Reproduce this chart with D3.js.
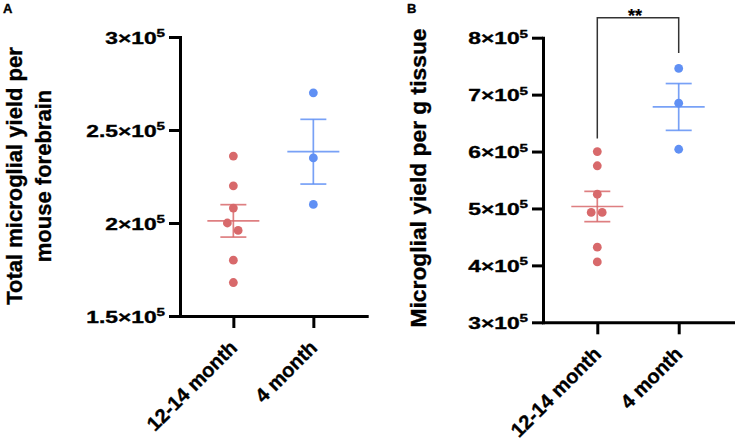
<!DOCTYPE html>
<html>
<head>
<meta charset="utf-8">
<script src="https://cdn.jsdelivr.net/npm/d3@7"></script>
<style>
  html, body { margin: 0; padding: 0; background: #fff; }
  svg { display: block; }
  text { font-family: "Liberation Sans", Arial, Helvetica, sans-serif; font-weight: bold; fill: #000; stroke: #000; stroke-width: 0.35px; }
</style>
</head>
<body>
<svg id="chart" width="736" height="441"></svg>
<script>
// ---------- data ----------
const categories = ["12-14 month", "4 month"];

// Panel A: total microglial yield per mouse forebrain
const a_old = [2.36e5, 2.20e5, 2.08e5, 2.00e5, 1.96e5, 1.80e5, 1.68e5];
const a_young = [2.70e5, 2.35e5, 2.10e5];
const a_oldJitter = [0, 0, 0, -0.075, 0.06, 0, 0];   // fraction of category step
const a_youngJitter = [0, 0, 0];
const a_ticks = [1.5e5, 2e5, 2.5e5, 3e5];
const a_tickLabels = ["1.5×10", "2×10", "2.5×10", "3×10"];
const a_title = ["Total microglial yield per", "mouse forebrain"];

// Panel B: microglial yield per g tissue
const b_old = [6.00e5, 5.75e5, 5.25e5, 4.93e5, 4.93e5, 4.32e5, 4.06e5];
const b_young = [7.46e5, 6.85e5, 6.04e5];
const b_oldJitter = [0, 0, 0, -0.075, 0.06, 0, 0];
const b_youngJitter = [0, 0, 0];
const b_ticks = [3e5, 4e5, 5e5, 6e5, 7e5, 8e5];
const b_tickLabels = ["3×10", "4×10", "5×10", "6×10", "7×10", "8×10"];
const b_title = ["Microglial yield per g tissue"];
const tickExponent = "5";

// significance bracket (panel B)
const sigLabel = "**";
const sigTop = 8.35e5;
const sigLegEnds = [6.23e5, 7.73e5];

const colors = ["#d8696b", "#6090f4"];

// ---------- helpers ----------
const svg = d3.select("#chart");

function mean(a) { return d3.mean(a); }
function sem(a) { return d3.deviation(a) / Math.sqrt(a.length); }

function panel(opt) {
  const g = svg.append("g");
  const x = d3.scalePoint().domain(categories).range([opt.x0, opt.x1]).padding(0.667);
  const y = d3.scaleLinear().domain(opt.domain).range([opt.y0, opt.y1]);
  const step = x.step();

  // y axis
  const yAx = g.append("g").attr("transform", `translate(${opt.x0},0)`)
    .call(d3.axisLeft(y).tickValues(opt.ticks).tickSize(11).tickSizeOuter(0).tickFormat(""));
  // x axis
  const xAx = g.append("g").attr("transform", `translate(0,${opt.y0})`)
    .call(d3.axisBottom(x).tickSize(12).tickSizeOuter(0).tickFormat(""));
  [yAx, xAx].forEach(ax => {
    ax.selectAll("path.domain").attr("stroke", "#000").attr("stroke-width", 3).attr("stroke-linecap", "square");
    ax.selectAll(".tick line").attr("stroke", "#000").attr("stroke-width", 3);
  });

  // y tick labels with superscript
  const lbl = g.append("g").selectAll("text").data(opt.ticks).join("text")
    .attr("text-anchor", "end")
    .attr("transform", d => `translate(${opt.x0 - 15},${y(d) + 6.5}) scale(1.38,1)`)
    .style("font-size", "16.5px");
  lbl.append("tspan").text((d, i) => opt.tickLabels[i]);
  lbl.append("tspan").attr("dy", -6.5).style("font-size", "11px").text(tickExponent);

  // x tick labels rotated
  g.append("g").selectAll("text").data(categories).join("text")
    .attr("text-anchor", "end")
    .attr("transform", d => `translate(${x(d) + 5},${opt.y0 + 33}) rotate(-45)`)
    .style("font-size", "20px")
    .text(d => d);

  // y title
  const t = g.append("text")
    .attr("text-anchor", "middle")
    .attr("transform", `translate(${opt.titleX},${opt.titleY}) rotate(-90)`)
    .style("font-size", opt.titleSize + "px");
  opt.title.forEach((line, i) => {
    t.append("tspan").attr("x", 0).attr("y", i * opt.titleGap).text(line);
  });

  // panel letter
  g.append("text").attr("x", opt.letterX).attr("y", 12.5).style("font-size", "13px").text(opt.letter);

  // groups
  opt.groups.forEach((grp, gi) => {
    const cx = x(categories[gi]);
    const col = colors[gi];
    const m = mean(grp.values), s = sem(grp.values);
    const bars = g.append("g").attr("stroke", col).attr("stroke-width", 1.7).attr("stroke-opacity", 0.85);
    bars.append("line").attr("x1", cx - 26).attr("x2", cx + 26).attr("y1", y(m)).attr("y2", y(m));
    bars.append("line").attr("x1", cx).attr("x2", cx).attr("y1", y(m + s)).attr("y2", y(m - s));
    bars.append("line").attr("x1", cx - 13).attr("x2", cx + 13).attr("y1", y(m + s)).attr("y2", y(m + s));
    bars.append("line").attr("x1", cx - 13).attr("x2", cx + 13).attr("y1", y(m - s)).attr("y2", y(m - s));
    g.append("g").selectAll("circle").data(grp.values).join("circle")
      .attr("cx", (d, i) => cx + grp.jitter[i] * step)
      .attr("cy", d => y(d))
      .attr("r", 4.4)
      .attr("fill", col);
  });

  return { x, y, g };
}

// ---------- panel A ----------
panel({
  x0: 180, x1: 366.7, y0: 316, y1: 37, domain: [1.5e5, 3e5],
  ticks: a_ticks, tickLabels: a_tickLabels,
  title: a_title, titleX: 21.5, titleY: 176, titleGap: 29, titleSize: 22,
  letter: "A", letterX: 3,
  groups: [{ values: a_old, jitter: a_oldJitter }, { values: a_young, jitter: a_youngJitter }]
});

// ---------- panel B ----------
const pB = panel({
  x0: 543, x1: 733, y0: 322.3, y1: 37.7, domain: [3e5, 8e5],
  ticks: b_ticks, tickLabels: b_tickLabels,
  title: b_title, titleX: 426, titleY: 178, titleGap: 0, titleSize: 22.8,
  letter: "B", letterX: 407,
  groups: [{ values: b_old, jitter: b_oldJitter }, { values: b_young, jitter: b_youngJitter }]
});

// significance bracket
const xL = pB.x(categories[0]), xR = pB.x(categories[1]);
pB.g.append("path")
  .attr("d", d3.line()([[xL, pB.y(sigLegEnds[0])], [xL, pB.y(sigTop)], [xR, pB.y(sigTop)], [xR, pB.y(sigLegEnds[1])]]))
  .attr("fill", "none").attr("stroke", "#333").attr("stroke-width", 1.5);
pB.g.append("text").attr("x", (xL + xR) / 2 - 3).attr("y", 21.5)
  .attr("text-anchor", "middle").style("font-size", "18px").style("stroke-width", "0.2px").text(sigLabel);
</script>
</body>
</html>
